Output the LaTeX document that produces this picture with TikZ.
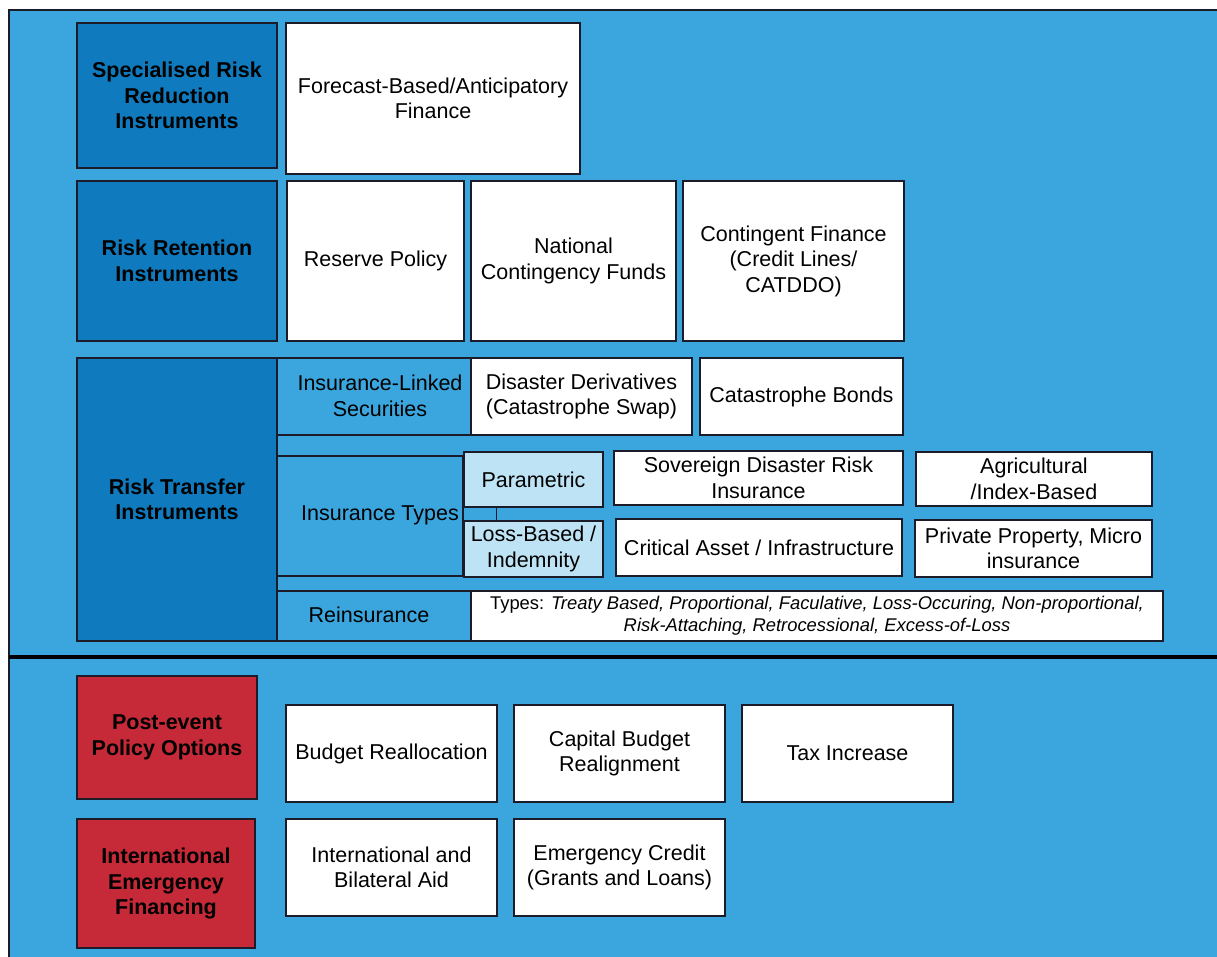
\documentclass[tikz,border=0pt]{standalone}
\usepackage{fontspec}
\setmainfont{Liberation Sans}
\usetikzlibrary{calc}
\definecolor{bgblue}{HTML}{3BA5DD}
\definecolor{darkblue}{HTML}{0F7BBE}
\definecolor{paleblue}{HTML}{BEE3F5}
\definecolor{redbox}{HTML}{C62A38}
\definecolor{edge}{HTML}{1B1B2A}
\tikzset{
  base/.style={draw=edge, inner sep=0pt, align=center, font=\fontsize{10.75pt}{12.75pt}\selectfont},
  whitebox/.style={base, fill=white, line width=1pt},
  headbox/.style={base, fill=darkblue, line width=0.75pt, font=\fontsize{10.75pt}{12.75pt}\selectfont\bfseries},
  redhead/.style={base, fill=redbox, line width=0.75pt, font=\fontsize{10.75pt}{12.75pt}\selectfont\bfseries},
  subbox/.style={base, fill=bgblue, line width=0.75pt},
  palebox/.style={base, fill=paleblue, line width=0.75pt},
  plaintext/.style={inner sep=0pt, align=center, font=\fontsize{10.75pt}{12.75pt}\selectfont},
  typesbox/.style={whitebox, font=\fontsize{9.2pt}{11pt}\selectfont},
}
\newcommand\bx[7]{%
  \pgfmathsetmacro\bxcx{(#3+#4)/2}%
  \pgfmathsetmacro\bxcy{(#5+#6)/2}%
  \pgfmathsetmacro\bxw{(#4-#3)*0.5}%
  \pgfmathsetmacro\bxh{(#6-#5)*0.5}%
  \node[#1, minimum width=\bxw pt, minimum height=\bxh pt] (#2) at (\bxcx,\bxcy) {#7};}
\begin{document}
\begin{tikzpicture}[x=0.5pt, y=-0.5pt]
\useasboundingbox (0,0) rectangle (1217,957);
% background
\fill[bgblue] (9,10) rectangle (1230,970);
\draw[edge, line width=0.8pt] (9,970) -- (9,10) -- (1230,10);
\draw[black, line width=1.8pt] (9,657) -- (1230,657);

% row 1
\bx{headbox}{spec}{77}{277}{23}{168}{Specialised Risk\\Reduction\\Instruments}
\bx{whitebox}{fore}{286}{580}{23}{174}{Forecast-Based/Anticipatory\\Finance}

% row 2
\bx{headbox}{ret}{77}{277}{181}{341}{Risk Retention\\Instruments}
\bx{whitebox}{res}{287}{464}{181}{341}{Reserve Policy}
\bx{whitebox}{ncf}{471}{676}{181}{341}{National\\Contingency Funds}
\bx{whitebox}{cf}{683}{904}{181}{341}{Contingent Finance\\(Credit Lines/\\CATDDO)}

% row 3: risk transfer
\bx{headbox}{rt}{77}{277}{358}{641}{Risk Transfer\\Instruments}
\bx{subbox}{ils}{277}{471}{358}{435}{}
\node[plaintext] (ilst) at (380,396) {Insurance-Linked\\Securities};
\bx{whitebox}{dd}{471}{692}{358}{435}{Disaster Derivatives\\(Catastrophe Swap)}
\bx{whitebox}{cb}{700}{903}{358}{435}{Catastrophe Bonds}

\bx{subbox}{it}{277}{463}{456}{576}{}
\node[plaintext] (itt) at (380,515) {Insurance Types};
\bx{palebox}{par}{464}{603}{452}{507}{Parametric}
\bx{palebox}{lb}{464}{603}{521}{577}{Loss-Based /\\Indemnity}
\draw[edge, line width=0.75pt] ([xshift=16.5pt]par.south west) -- ([xshift=16.5pt]lb.north west);
\bx{whitebox}{sov}{614}{903}{451}{505}{Sovereign Disaster Risk\\Insurance}
\bx{whitebox}{agr}{916}{1152}{452}{506}{Agricultural\\/Index-Based}
\bx{whitebox}{cri}{616}{902}{519}{576}{Critical Asset / Infrastructure}
\bx{whitebox}{pri}{915}{1152}{520}{577}{Private Property, Micro\\insurance}

\bx{subbox}{rei}{277}{471}{591}{641}{}
\node[plaintext] (reit) at (369,615) {Reinsurance};
\bx{typesbox}{typ}{471}{1163}{591}{641}{Types: \itshape Treaty Based, Proportional, Faculative, Loss-Occuring, Non-proportional,\\\itshape Risk-Attaching, Retrocessional, Excess-of-Loss}

% bottom section
\bx{redhead}{pe}{77}{257}{676}{799}{Post-event\\Policy Options}
\bx{whitebox}{br}{286}{497}{705}{802}{Budget Reallocation}
\bx{whitebox}{cap}{514}{725}{705}{802}{Capital Budget\\Realignment}
\bx{whitebox}{tax}{742}{953}{705}{802}{Tax Increase}

\bx{redhead}{ief}{77}{255}{819}{948}{International\\Emergency\\Financing}
\bx{whitebox}{iba}{286}{497}{819}{916}{International and\\Bilateral Aid}
\bx{whitebox}{ec}{514}{725}{819}{916}{Emergency Credit\\(Grants and Loans)}
\end{tikzpicture}
\end{document}
